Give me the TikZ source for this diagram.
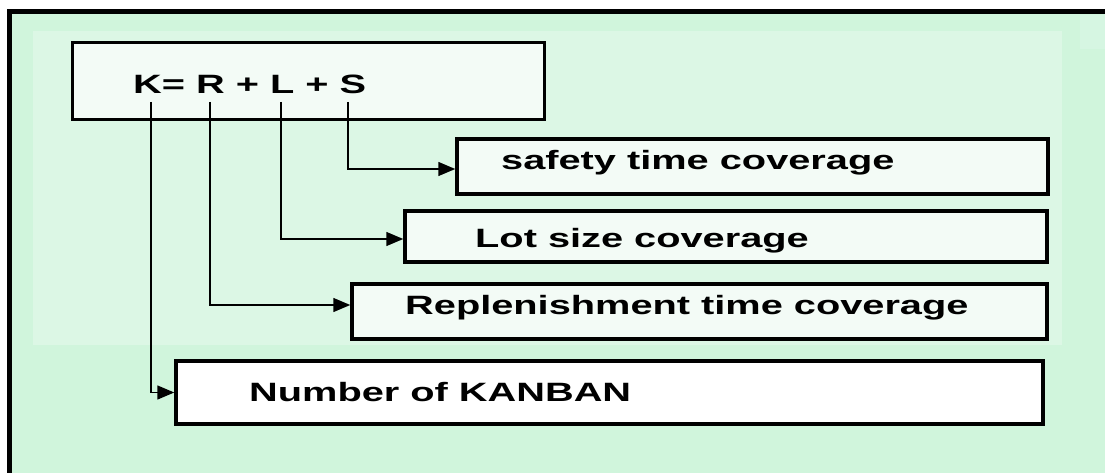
\documentclass[tikz,border=0pt]{standalone}
\usepackage{fontspec}
\usetikzlibrary{arrows.meta}
\newfontfamily\wf[FakeStretch=1.5]{Liberation Sans}
\definecolor{outerg}{RGB}{208,245,220}
\definecolor{innerg}{RGB}{220,247,229}
\definecolor{cornerg}{RGB}{214,246,226}
\definecolor{boxfill}{RGB}{243,251,246}
\tikzset{
  box/.style={draw=black, line width=3.5pt, fill=boxfill, inner sep=0pt, rectangle},
  lbl/.style={anchor=base west, inner sep=0pt, font=\wf\bfseries\fontsize{26.5}{30}\selectfont},
  conn/.style={draw=black, line width=1.5pt, -{Triangle[length=17pt,width=14pt]}}
}
\begin{document}
\begin{tikzpicture}[x=1pt,y=-1pt]
\useasboundingbox (0,0) rectangle (1105,473);
\clip (0,0) rectangle (1105,473);
\fill[white] (0,0) rectangle (1105,473);
\filldraw[fill=outerg, draw=black, line width=5pt] (9.5,11.5) rectangle (1140,500);
\fill[innerg] (33,31) rectangle (1062,345);
\fill[cornerg] (1080,15) rectangle (1105,49);

% boxes
\node[box, minimum width=472pt, minimum height=77pt] (F) at (308.5,81) {};
\node[box, minimum width=591pt, minimum height=55pt] (S) at (752.5,166.5) {};
\node[box, minimum width=642pt, minimum height=51pt] (Lt) at (726,236.5) {};
\node[box, minimum width=695pt, minimum height=55pt] (Rp) at (699.5,311.5) {};
\node[box, fill=white, minimum width=867pt, minimum height=63pt] (N) at (609.5,392.5) {};

% texts
\node[lbl] (tF) at (133,93.3) {K= R + L + S};
\node[lbl] (tS) at (501,170) {safety time coverage};
\node[lbl] (tL) at (475,247.7) {Lot size coverage};
\node[lbl] (tR) at (405,314) {Replenishment time coverage};
\node[lbl] (tN) at (249,401.7) {Number of KANBAN};

% connector start points
\coordinate (sK) at (151,102);
\coordinate (sR) at (210,102);
\coordinate (sL) at (281,102);
\coordinate (sS) at (348,102);

\draw[conn] (sK) |- (N.west);
\draw[conn] (sR) |- ([yshift=6.5pt]Rp.west);
\draw[conn] (sL) |- ([yshift=-2.5pt]Lt.west);
\draw[conn] (sS) |- ([yshift=-2.5pt]S.west);
\end{tikzpicture}
\end{document}
